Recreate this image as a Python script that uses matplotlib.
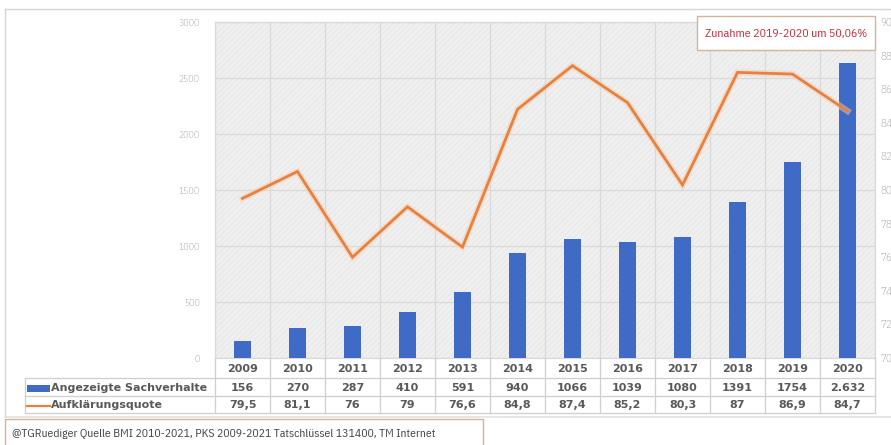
import matplotlib
matplotlib.use("Agg")
import numpy as np
import matplotlib.pyplot as plt
from matplotlib import transforms as mtransforms
from matplotlib.patches import Rectangle
from matplotlib.lines import Line2D
import matplotlib.patheffects as pe

# --- data -------------------------------------------------------------
years = ["2009", "2010", "2011", "2012", "2013", "2014",
         "2015", "2016", "2017", "2018", "2019", "2020"]
cases = [156, 270, 287, 410, 591, 940, 1066, 1039, 1080, 1391, 1754, 2632]
case_labels = ["156", "270", "287", "410", "591", "940",
               "1066", "1039", "1080", "1391", "1754", "2.632"]
rate = [79.5, 81.1, 76, 79, 76.6, 84.8, 87.4, 85.2, 80.3, 87, 86.9, 84.7]
rate_labels = ["79,5", "81,1", "76", "79", "76,6", "84,8",
               "87,4", "85,2", "80,3", "87", "86,9", "84,7"]
left_ticks = [0, 500, 1000, 1500, 2000, 2500, 3000]
right_ticks = [70, 72, 74, 76, 78, 80, 82, 84, 86, 88, 90]
series_names = ["Angezeigte Sachverhalte", "Aufklärungsquote"]
note = "Zunahme 2019-2020 um 50,06%"
source = "@TGRuediger Quelle BMI 2010-2021, PKS 2009-2021 Tatschlüssel 131400, TM Internet"

BLUE = "#3F6BC6"
ORANGE = "#E8803F"
GRID = "#d9d9d9"
TXT = "#595959"
NARROW = ["IBM Plex Sans Condensed", "DejaVu Sans"]

W, H = 891, 445
fig = plt.figure(figsize=(W / 100, H / 100), dpi=100)
fig.patch.set_facecolor("white")
# pixel coordinates measured from the top-left corner
px = mtransforms.Affine2D().scale(1 / W, -1 / H).translate(0, 1) + fig.transFigure

# outer frame (open to the right)
fig.add_artist(Line2D([5, W + 5], [9, 9], transform=px, color="#d6d6d6", lw=1))
fig.add_artist(Line2D([5, 5], [9, 417], transform=px, color="#d6d6d6", lw=1))
fig.add_artist(Line2D([5, W + 5], [417, 417], transform=px, color="#e2e2e2", lw=1.2))

# --- chart ------------------------------------------------------------
ax_l, ax_t, ax_r, ax_b = 215, 22, 875, 358
ax = fig.add_axes([ax_l / W, (H - ax_b) / H, (ax_r - ax_l) / W, (ax_b - ax_t) / H])
x = np.arange(len(years))
ax.set_xlim(-0.5, len(years) - 0.5)
ax.set_ylim(0, 3000)
ax.set_facecolor("#f0f0f0")
ax.add_patch(Rectangle((0, 0), 1, 1, transform=ax.transAxes, facecolor="none",
                       edgecolor="#e9e9e9", hatch="//////", lw=0, zorder=0))
ax.set_axisbelow(True)

ax.bar(x, cases, width=0.3, color=BLUE, zorder=3)

ax.set_yticks(left_ticks)
ax.set_yticklabels([str(v) for v in left_ticks], family=NARROW, fontsize=7,
                   fontweight="light", color="#8c8c8c")
ax.tick_params(axis="y", length=0, pad=11)
ax.set_xticks(np.arange(-0.5, len(years), 1))
ax.set_xticklabels([])
ax.tick_params(axis="x", length=0)
ax.grid(True, color=GRID, lw=0.9)
for s in ax.spines.values():
    s.set_color(GRID)
    s.set_linewidth(0.9)

ax2 = ax.twinx()
ax2.set_ylim(70, 90)
ax2.set_yticks(right_ticks)
ax2.set_yticklabels([str(v) for v in right_ticks], family=NARROW, fontsize=8,
                    fontweight="light", color="#8c8c8c")
ax2.tick_params(axis="y", length=0, pad=4)
for s in ax2.spines.values():
    s.set_visible(False)
ax2.plot(x, rate, color=ORANGE, lw=2.0, solid_joinstyle="miter", zorder=4,
         path_effects=[pe.Stroke(linewidth=4.5, foreground="#f6cfae", alpha=0.5),
                       pe.Normal()])

# --- note box -----------------------------------------------------------
fig.add_artist(Rectangle((697, 16), 178, 34, transform=px, facecolor="white",
                         edgecolor="#d4b49a", lw=1.0, zorder=10))
fig.text(786, 33.5, note, transform=px, ha="center", va="center", family=NARROW,
         fontsize=8.6, color="#c8283c", zorder=11)

# --- data table -------------------------------------------------------
colx = mtransforms.blended_transform_factory(ax.transData, px)
rows = [358, 378, 396, 413]
leg_l = 25
line_kw = dict(color="#cfcfcf", lw=0.9)
fig.add_artist(Line2D([leg_l, ax_r], [rows[1], rows[1]], transform=px, **line_kw))
fig.add_artist(Line2D([leg_l, ax_r], [rows[2], rows[2]], transform=px, **line_kw))
fig.add_artist(Line2D([leg_l, ax_r], [rows[3], rows[3]], transform=px, **line_kw))
fig.add_artist(Line2D([leg_l, leg_l], [rows[1], rows[3]], transform=px, **line_kw))
for b in np.arange(-0.5, len(years), 1):
    fig.add_artist(Line2D([b, b], [rows[0], rows[3]], transform=colx, **line_kw))

tkw = dict(ha="center", va="center", family="DejaVu Sans", fontweight="bold",
           fontsize=8, color=TXT)
for i in range(len(years)):
    fig.text(x[i], (rows[0] + rows[1]) / 2 + 1, years[i], transform=colx, **tkw)
    fig.text(x[i], (rows[1] + rows[2]) / 2 + 1, case_labels[i], transform=colx, **tkw)
    fig.text(x[i], (rows[2] + rows[3]) / 2 + 1, rate_labels[i], transform=colx, **tkw)

# legend keys inside the table
r2 = (rows[1] + rows[2]) / 2 + 1
r3 = (rows[2] + rows[3]) / 2 + 1
fig.add_artist(Rectangle((27, r2 - 3.5), 23, 7, transform=px, facecolor=BLUE, lw=0))
fig.add_artist(Line2D([27, 50], [r3, r3], transform=px, color=ORANGE, lw=1.6))
fig.text(51, r2, series_names[0], transform=px, ha="left", va="center",
         family="DejaVu Sans", fontweight="bold", fontsize=8, color=TXT)
fig.text(51, r3, series_names[1], transform=px, ha="left", va="center",
         family="DejaVu Sans", fontweight="bold", fontsize=8, color=TXT)

# --- source box -------------------------------------------------------
fig.add_artist(Rectangle((5, 419), 478, 40, transform=px, facecolor="white",
                         edgecolor="#d8b48e", lw=1.0))
fig.text(12, 434, source, transform=px, ha="left", va="center", family=NARROW,
         fontsize=8.4, color="#404040")

fig.savefig("out.png", dpi=100)
